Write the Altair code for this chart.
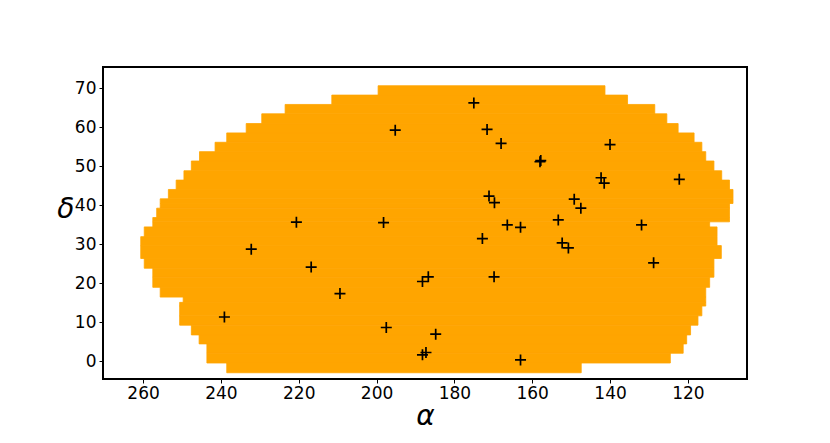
import altair as alt
import pandas as pd

dec_top = [70.6, 68.2, 65.8, 63.4, 60.9, 58.5, 56.1, 53.7, 51.3, 48.8, 46.4, 44.0, 41.6, 40.4, 39.2, 36.8,
           35.7, 34.4, 31.9, 29.6, 26.3, 23.8, 21.5, 18.9, 16.4, 15.05, 14.1, 11.6, 9.2, 6.7, 4.4, 2.0, -0.5]
dec_bottom = dec_top[1:] + [-3.0]
ra_east = [199.6, 211.5, 223.5, 229.5, 233.5, 238.5, 241.5, 245.5, 247.6, 249.5, 251.5, 253.5, 255.6, 255.6, 256.5, 257.5,
           257.5, 259.7, 260.6, 260.6, 259.7, 257.5, 257.5, 255.6, 249.7, 250.6, 250.6, 250.6, 247.6, 245.6, 243.6, 243.6, 238.5]
ra_west = [141.3, 135.5, 128.5, 125.4, 122.5, 118.4, 116.4, 115.4, 113.3, 111.3, 109.3, 108.4, 108.4, 109.3, 109.3, 109.3,
           114.4, 112.5, 112.5, 111.4, 113.3, 113.3, 114.4, 115.4, 115.4, 115.4, 116.4, 117.4, 119.3, 120.3, 121.2, 124.5, 147.4]

pt_ra = [175.0, 171.6, 168.0, 158.0, 157.8, 140.0, 142.3, 141.5, 122.2, 171.1, 169.7, 149.2, 147.5, 153.3, 166.4, 163.0,
         131.9, 195.2, 220.6, 198.2, 232.2, 216.8, 209.4, 239.1, 197.5, 188.2, 186.7, 187.3, 188.2, 172.8, 169.8, 184.8,
         163.0, 152.3, 150.7, 128.8]
pt_dec = [66.2, 59.4, 55.8, 51.1, 51.4, 55.5, 47.0, 45.6, 46.6, 42.3, 40.6, 41.5, 39.2, 36.2, 34.9, 34.3,
          34.9, 59.2, 35.6, 35.5, 28.7, 24.1, 17.3, 11.3, 8.6, 20.4, 21.6, 2.2, 1.6, 31.4, 21.6, 6.9,
          0.3, 30.3, 29.0, 25.2]

x_ticks = [260, 240, 220, 200, 180, 160, 140, 120]
y_ticks = [0, 10, 20, 30, 40, 50, 60, 70]

bands = pd.DataFrame({"e": ra_east, "w": ra_west, "top": dec_top, "bottom": dec_bottom})
points = pd.DataFrame({"ra": pt_ra, "dec": pt_dec})

x_scale = alt.Scale(domain=[270.3, 104.8], nice=False, zero=False)
y_scale = alt.Scale(domain=[-4.6, 75.4], nice=False, zero=False)

FONT = "DejaVu Sans"
x_axis = alt.Axis(values=x_ticks, grid=False, domain=False, tickColor="black", tickSize=4, tickWidth=1,
                  labelFont=FONT, labelFontSize=17, labelColor="black", labelPadding=2, labelFlush=False,
                  title="α", titleFont=FONT, titleFontStyle="italic", titleFontWeight="normal", titleFontSize=28,
                  titleColor="black", titlePadding=1)
y_axis = alt.Axis(values=y_ticks, grid=False, domain=False, tickColor="black", tickSize=4, tickWidth=1,
                  labelFont=FONT, labelFontSize=17, labelColor="black", labelPadding=3,
                  title="δ", titleFont=FONT, titleFontStyle="italic", titleFontWeight="normal", titleFontSize=28,
                  titleColor="black", titleAngle=0, titlePadding=9)

footprint = alt.Chart(bands).mark_rect(color="#ffa500", stroke="#ffa500", strokeWidth=0.8).encode(
    x=alt.X("e:Q", scale=x_scale, axis=x_axis),
    x2="w:Q",
    y=alt.Y("top:Q", scale=y_scale, axis=y_axis),
    y2="bottom:Q",
)
crosses = alt.Chart(points).mark_point(
    shape="M-1,0L1,0M0,-1L0,1", filled=False, stroke="black", strokeWidth=1.7, size=121, opacity=1
).encode(
    x=alt.X("ra:Q", scale=x_scale),
    y=alt.Y("dec:Q", scale=y_scale),
)

chart = (footprint + crosses).properties(
    width=644, height=312, autosize="none", background="white",
    padding={"left": 95, "top": 59, "right": 70, "bottom": 54},
).configure_view(stroke="black", strokeWidth=2)

chart.save("out.html", embed_options={"renderer": "svg", "actions": False})
